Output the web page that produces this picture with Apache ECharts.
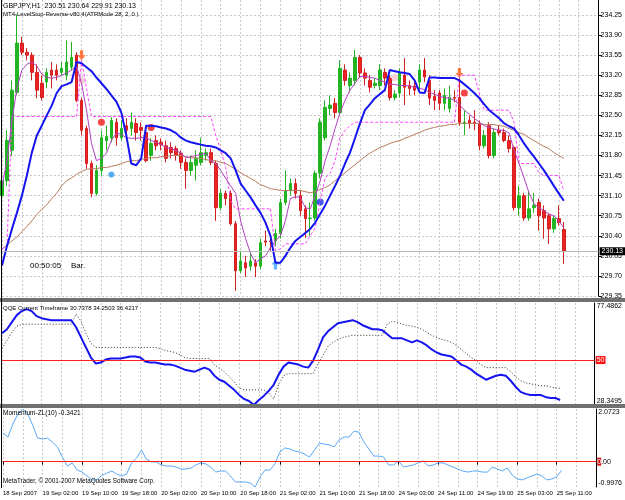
<!DOCTYPE html>
<html><head><meta charset="utf-8">
<script src="https://cdn.jsdelivr.net/npm/echarts@6/dist/echarts.min.js"></script>
<style>html,body{margin:0;padding:0;background:#fff}#c{width:625px;height:500px}</style>
</head><body><div id="c"></div><script>
const tickLabels = ['18 Sep 2007','19 Sep 02:00','19 Sep 10:00','19 Sep 18:00','20 Sep 02:00','20 Sep 10:00','20 Sep 18:00','21 Sep 02:00','21 Sep 10:00','21 Sep 18:00','24 Sep 03:00','24 Sep 11:00','24 Sep 19:00','25 Sep 03:00','25 Sep 11:00'];
const priceTicks = [229.35,229.70,230.05,230.40,230.75,231.10,231.45,231.80,232.15,232.50,232.85,233.20,233.55,233.90,234.25];

const opens = [231.10,231.36,231.89,232.90,233.76,233.60,233.55,233.25,233.06,233.08,
233.29,233.29,233.25,233.20,233.34,233.55,232.76,232.27,231.66,231.14,
231.54,232.06,232.11,232.38,232.11,232.32,232.27,232.36,232.29,232.20,
231.80,232.06,232.03,231.97,231.94,231.92,231.84,231.68,231.54,231.63,
231.68,231.80,231.85,231.66,230.89,231.14,231.14,230.61,229.79,229.93,
229.87,229.93,229.87,230.31,230.31,230.31,230.44,230.98,231.19,231.31,
231.10,230.87,230.70,230.71,231.49,232.11,232.62,232.71,232.55,233.29,
233.02,233.11,233.51,233.24,233.11,233.02,233.02,233.25,233.15,232.81,
232.89,233.20,233.02,233.01,233.08,233.29,233.11,232.83,232.89,232.71,
232.62,232.81,232.81,232.36,232.41,232.38,232.36,231.97,232.32,231.80,
232.24,232.20,232.06,231.94,230.89,231.10,230.71,230.89,230.98,230.84,
230.75,230.52,230.70,230.51];
const closes = [231.36,232.06,232.94,233.76,233.60,233.55,233.25,232.94,232.81,233.25,
233.20,233.20,233.32,233.43,233.51,232.76,232.24,231.66,231.14,231.54,
232.11,232.13,232.41,232.11,232.27,232.24,232.38,232.20,232.24,231.71,
232.01,231.97,231.99,231.75,231.85,231.80,231.68,231.54,231.68,231.75,
231.85,231.85,231.68,230.89,231.14,231.05,230.61,229.79,229.96,229.84,
229.96,229.87,230.28,230.29,230.30,230.44,230.98,231.19,231.31,231.14,
230.84,230.70,230.71,231.49,232.38,232.64,232.68,232.55,233.32,233.11,
233.15,233.51,233.24,233.15,232.99,233.06,233.29,233.15,232.81,232.87,
233.25,232.99,232.97,232.94,233.29,233.17,232.80,232.76,232.71,232.85,
232.81,232.80,232.38,232.38,232.36,232.36,231.97,232.15,231.80,232.20,
232.20,232.06,231.92,230.89,231.10,230.71,230.87,230.93,230.75,230.71,
230.52,230.70,230.63,230.13];
const highs = [231.54,232.24,233.11,234.25,233.87,233.67,233.60,233.39,233.20,233.32,
233.43,233.39,233.43,233.81,233.78,233.60,232.80,232.32,231.71,231.63,
232.24,232.32,232.47,232.45,232.41,232.45,232.55,232.45,232.38,232.32,
232.10,232.15,232.10,232.06,232.03,231.97,231.89,231.75,231.80,231.89,
232.11,231.92,231.92,231.71,231.22,231.19,231.19,230.66,230.14,230.05,
230.14,229.99,230.35,230.49,230.40,230.52,231.05,231.54,231.40,231.40,
231.19,230.93,230.98,231.54,232.45,232.76,232.85,232.80,233.46,233.39,
233.25,233.64,233.55,233.32,233.20,233.15,233.39,233.32,233.20,232.94,
233.32,233.50,233.11,233.11,233.39,233.50,233.20,232.94,232.94,232.97,
233.02,232.94,233.15,232.59,232.50,232.59,232.41,232.24,232.38,232.27,
232.32,232.27,232.15,231.97,231.27,231.15,231.19,231.15,231.05,230.93,
230.80,230.75,230.93,230.64];
const lows = [231.01,231.27,231.80,232.85,233.55,233.46,233.11,232.80,232.76,232.97,
232.97,233.11,233.20,233.11,233.29,232.73,232.15,231.57,231.07,231.10,
231.45,231.89,232.03,231.97,232.06,232.10,232.15,232.06,232.06,231.68,
231.71,231.89,231.89,231.68,231.75,231.71,231.57,231.22,231.45,231.36,
231.63,231.71,231.63,230.66,230.84,230.93,230.58,229.44,229.75,229.68,
229.79,229.68,229.82,230.22,230.14,230.22,230.35,230.93,231.10,231.05,
230.75,230.36,230.40,230.66,231.40,232.06,232.50,232.45,232.50,233.02,
232.90,233.02,233.15,233.02,232.90,232.97,232.94,233.02,232.76,232.76,
232.81,232.68,232.85,232.85,232.94,233.08,232.68,232.59,232.59,232.59,
232.55,232.73,232.32,232.15,232.27,232.24,231.89,231.92,231.75,231.75,
232.15,232.03,231.85,230.84,230.75,230.66,230.66,230.80,230.49,230.35,
230.26,230.45,230.58,229.91];

const trendLine = [229.88,230.22,230.52,230.80,231.10,231.45,231.85,232.15,232.32,232.50,
232.67,232.89,233.01,233.04,233.08,233.43,233.41,233.34,233.27,233.16,
233.06,232.96,232.85,232.74,232.55,232.15,231.66,231.63,231.75,232.32,
232.32,232.31,232.29,232.27,232.24,232.19,232.11,232.06,232.03,232.01,
231.99,231.97,231.96,231.94,231.89,231.84,231.75,231.54,231.31,231.19,
231.07,230.93,230.80,230.63,230.40,229.93,229.93,230.05,230.19,230.31,
230.38,230.45,230.52,230.63,230.78,230.93,231.10,231.27,231.45,231.66,
231.85,232.10,232.36,232.59,232.69,232.80,232.87,232.94,233.29,233.27,
233.25,233.24,233.22,233.11,232.90,232.89,233.16,233.16,233.15,233.15,
233.15,233.15,233.11,233.04,232.97,232.89,232.80,232.69,232.59,232.52,
232.45,232.36,232.31,232.27,232.15,232.01,231.89,231.78,231.66,231.54,
231.41,231.27,231.14,231.01];
const fastMA = [231.27,231.71,232.41,232.97,233.29,233.39,233.43,233.36,233.22,233.16,
233.15,233.16,233.20,233.24,233.29,233.36,233.06,232.59,232.01,231.71,
231.75,231.84,232.06,232.19,232.17,232.11,232.10,232.10,232.11,232.11,
232.06,232.03,231.99,231.94,231.92,231.89,231.84,231.76,231.78,231.80,
231.82,231.84,231.71,231.66,231.54,231.40,231.27,231.14,230.66,230.35,
230.09,229.93,230.00,230.05,230.19,230.31,230.40,230.66,231.05,231.08,
231.07,230.89,230.87,231.10,231.36,231.71,231.97,232.27,232.55,232.76,
232.94,233.06,233.18,233.18,233.16,233.15,233.11,233.08,233.04,233.04,
233.02,233.02,233.01,232.99,232.97,232.95,232.90,232.87,232.83,232.81,
232.80,232.76,232.69,232.59,232.52,232.45,232.38,232.32,232.29,232.26,
232.24,232.24,232.19,231.89,231.66,231.41,231.15,230.96,230.89,230.84,
230.78,230.75,230.66,230.54];
const slowMA = [230.17,230.24,230.31,230.38,230.47,230.56,230.66,230.77,230.86,230.94,
231.05,231.14,231.27,231.36,231.41,231.47,231.52,231.56,231.57,231.57,
231.59,231.59,231.61,231.63,231.66,231.69,231.71,231.71,231.73,231.75,
231.76,231.76,231.78,231.78,231.80,231.80,231.80,231.78,231.76,231.76,
231.75,231.73,231.71,231.71,231.68,231.66,231.61,231.56,231.50,231.45,
231.40,231.35,231.29,231.26,231.22,231.21,231.19,231.19,231.19,231.19,
231.19,231.17,231.15,231.17,231.21,231.24,231.29,231.36,231.43,231.50,
231.57,231.64,231.71,231.78,231.84,231.89,231.94,231.97,232.01,232.04,
232.06,232.10,232.13,232.17,232.20,232.24,232.27,232.29,232.31,232.32,
232.34,232.34,232.36,232.36,232.36,232.36,232.36,232.34,232.34,232.34,
232.32,232.31,232.27,232.24,232.20,232.17,232.11,232.06,232.01,231.96,
231.92,231.85,231.80,231.75];
const stopUp = [230.17,230.22,232.48,232.48,232.48,232.48,232.48,232.48,232.48,232.48,
232.48,232.48,232.48,232.48,232.48,232.48,null,null,null,null,
null,null,null,null,null,null,null,null,null,null,
null,null,null,null,null,null,null,null,null,null,
null,null,null,null,null,null,null,null,null,null,
null,null,null,null,230.87,230.14,230.17,230.26,230.26,230.26,
230.26,230.26,230.40,230.54,231.01,231.41,231.49,231.71,232.11,232.24,
232.32,232.38,232.38,232.38,232.38,232.38,232.38,232.38,232.38,232.38,
232.38,232.38,232.38,232.38,232.38,232.38,232.38,232.38,232.38,232.38,
232.38,232.38,null,null,null,null,null,null,null,null,
null,null,null,null,null,null,null,null,null,null,
null,null,null,null];
const stopDown = [null,null,null,null,null,null,null,null,null,null,
null,null,null,null,null,232.48,233.46,232.97,232.48,232.48,
232.48,232.48,232.48,232.48,232.48,232.48,232.48,232.48,232.48,232.48,
232.48,232.48,232.48,232.48,232.48,232.48,232.48,232.48,232.48,232.48,
232.48,232.48,232.48,232.15,231.89,231.59,231.01,230.87,230.87,230.87,
230.87,230.87,230.87,230.87,230.87,null,null,null,null,null,
null,null,null,null,null,null,null,null,null,null,
null,null,null,null,null,null,null,null,null,null,
null,null,null,null,null,null,null,null,null,null,
null,232.38,233.20,233.20,233.20,233.20,232.89,232.59,232.59,232.59,
232.59,232.59,232.59,232.38,231.66,231.66,231.66,231.66,231.50,231.45,
231.45,231.45,231.45,231.19];

const qqeMain = [62.89,64.84,68.24,71.65,73.59,74.57,73.59,71.16,70.19,69.70,
69.22,69.22,69.22,69.22,69.22,65.81,60.94,56.08,51.21,48.30,
48.78,50.24,50.73,50.73,50.73,51.21,51.70,51.70,51.21,49.27,
48.78,48.78,48.30,47.81,47.81,47.32,46.35,45.38,44.89,44.40,
45.38,46.35,45.38,42.46,40.51,39.54,37.59,35.65,33.21,31.27,
30.29,28.35,30.78,32.73,35.16,38.08,42.94,46.84,48.78,48.30,
47.81,46.84,46.35,49.76,55.11,60.94,63.86,65.81,67.76,68.24,
68.73,69.22,68.24,66.78,65.81,64.84,64.84,64.35,62.40,60.46,
60.46,60.46,59.49,58.51,59.49,58.51,57.05,55.11,53.65,52.67,
52.19,51.70,49.76,47.81,46.84,45.38,43.43,41.97,40.51,41.49,
42.46,42.94,42.46,40.03,37.11,34.67,33.70,33.21,33.21,33.21,
32.24,31.75,31.75,30.74];
const qqeSignal = [55.59,59.49,63.38,66.30,67.27,67.27,67.27,67.27,67.27,67.27,
67.27,67.27,67.27,67.27,67.27,72.13,68.73,62.89,58.02,56.08,
56.08,56.08,56.08,56.08,56.08,56.08,56.08,56.08,56.08,56.08,
56.08,56.08,55.59,54.62,54.13,53.65,52.67,51.21,50.73,50.73,
50.73,50.73,50.73,47.81,45.86,44.40,41.97,39.54,36.62,35.65,
35.65,35.65,35.65,35.65,34.19,31.27,38.08,42.46,43.43,43.43,
43.43,43.43,43.43,43.43,48.30,52.19,56.57,58.51,59.97,60.94,
61.43,61.92,61.92,61.92,61.92,61.92,61.92,61.92,67.27,68.73,
68.24,67.27,66.78,66.30,65.81,64.84,63.38,61.92,60.94,59.97,
59.49,58.51,57.05,55.11,53.16,51.21,49.76,47.81,46.35,46.35,
46.35,46.35,46.35,44.40,41.97,40.03,39.05,38.57,38.08,37.59,
37.59,37.11,36.62,36.42];
const momentum = [1.13,0.97,1.48,1.87,2.07,1.87,1.44,0.93,0.89,0.93,
0.77,0.58,0.18,-0.17,-0.05,-0.33,-0.41,-0.56,-0.72,-0.72,
-0.53,-0.45,-0.37,-0.49,-0.56,-0.49,-0.05,0.14,0.46,0.10,
-0.01,-0.01,-0.13,-0.17,-0.17,-0.21,-0.29,-0.29,-0.25,-0.13,
-0.05,-0.09,-0.21,-0.41,-0.37,-0.37,-0.56,-0.80,-0.80,-0.80,
-0.84,-0.9976,-0.60,-0.33,-0.33,-0.09,0.38,0.54,0.50,0.42,
0.38,0.30,0.18,0.46,0.73,0.69,0.66,0.58,0.85,0.97,
0.97,1.20,1.16,0.77,0.50,0.22,0.22,0.18,-0.13,-0.13,
0.03,-0.21,-0.17,-0.13,-0.05,0.03,-0.17,-0.13,-0.05,-0.05,
-0.13,-0.21,-0.29,-0.37,-0.41,-0.37,-0.37,-0.41,-0.41,-0.21,
-0.29,-0.37,-0.25,-0.53,-0.68,-0.72,-0.64,-0.56,-0.49,-0.56,
-0.72,-0.68,-0.60,-0.3421];

const sellArrows = [[16,233.55],[92,233.24]];
const buyArrows = [[55,229.90]];
const redDots = [[20,232.38],[30,232.29],[93,232.89]];
const pinkDots = [[16,233.11],[79,233.16]];
const lightBlueDots = [[22,231.47]];
const darkBlueDots = [[64,230.99]];

const nSlots = 121;
const cats = Array.from({length:nSlots},(_,i)=>String(i));
const F = "'Liberation Sans',Arial,sans-serif";
const grid1 = '#c8c8c8';

function xAx(gi, bottom){
  return {type:'category', gridIndex:gi, data:cats, boundaryGap:false,
    axisLine:{show:bottom, lineStyle:{color:'#000',width:1}},
    axisTick:{show:bottom, interval:7, length:3, lineStyle:{color:'#000'}},
    axisLabel:{show:bottom, interval:7, align:'left', margin:3, fontSize:6, fontFamily:F, color:'#000',
      formatter:(v,idx)=> (idx%8===0 && tickLabels[idx/8]) ? tickLabels[idx/8] : ''},
    splitLine:{show:true, interval:3, lineStyle:{color:grid1, type:[2,2], width:1}}};
}

const chart = echarts.init(document.getElementById('c'), null, {renderer:'canvas'});
chart.setOption({
  animation:false,
  backgroundColor:'#fff',
  grid:[
    {left:2, top:0, width:600, height:296},
    {left:2, top:303, width:600, height:102},
    {left:2, top:409, width:600, height:78}
  ],
  xAxis:[xAx(0,false), xAx(1,false), xAx(2,true)],
  yAxis:[
    {type:'value', gridIndex:0, position:'right', min:229.35, max:234.5116, interval:0.35,
     axisLine:{show:true, lineStyle:{color:'#000'}},
     axisTick:{show:true, length:3, customValues:priceTicks, lineStyle:{color:'#000'}},
     axisLabel:{customValues:priceTicks, fontSize:7, fontFamily:F, color:'#000', margin:2, formatter:v=>v.toFixed(2)},
     splitLine:{show:true, lineStyle:{color:grid1, type:[2,2]}}},
    {type:'value', gridIndex:1, position:'right', min:28.3495, max:77.4862,
     axisLine:{show:true, lineStyle:{color:'#000'}},
     axisTick:{show:false, customValues:[28.3495,77.4862]},
     axisLabel:{customValues:[28.3495,77.4862], fontSize:7, fontFamily:F, color:'#000', margin:2,
       verticalAlignMinLabel:'bottom', verticalAlignMaxLabel:'top', formatter:v=>v.toFixed(4)},
     splitLine:{show:false}},
    {type:'value', gridIndex:2, position:'right', min:-0.9976, max:2.0723,
     axisLine:{show:true, lineStyle:{color:'#000'}},
     axisTick:{show:false, customValues:[-0.9976,2.0723]},
     axisLabel:{customValues:[-0.9976,2.0723], fontSize:7, fontFamily:F, color:'#000', margin:2,
       verticalAlignMinLabel:'bottom', verticalAlignMaxLabel:'top', formatter:v=>v.toFixed(4)},
     splitLine:{show:false}}
  ],
  series:[
    {type:'candlestick', xAxisIndex:0, yAxisIndex:0, barWidth:3,
     data: opens.map((o,i)=>[o, closes[i], lows[i], highs[i]]),
     itemStyle:{color:'#22b422', color0:'#f02222', borderColor:'#22b422', borderColor0:'#d02020', borderWidth:1},
     markLine:{silent:true, symbol:'none', animation:false,
       lineStyle:{color:'#b8b8b8', type:'solid', width:1},
       label:{show:true, position:'end', distance:1, formatter:()=>closes[closes.length-1].toFixed(2),
         backgroundColor:'#000', color:'#fff', fontSize:7, fontFamily:F, padding:[1,2,0,2]},
       data:[{yAxis:closes[closes.length-1]}]}},
    {type:'line', xAxisIndex:0, yAxisIndex:0, data:slowMA, symbol:'none', lineStyle:{color:'#b87a60', width:1}},
    {type:'line', xAxisIndex:0, yAxisIndex:0, data:stopUp, symbol:'none', connectNulls:false, lineStyle:{color:'#ff44ff', width:1, type:[3,2]}},
    {type:'line', xAxisIndex:0, yAxisIndex:0, data:stopDown, symbol:'none', connectNulls:false, lineStyle:{color:'#ff44ff', width:1, type:[3,2]}},
    {type:'line', xAxisIndex:0, yAxisIndex:0, data:fastMA, symbol:'none', lineStyle:{color:'#b040c0', width:1}},
    {type:'line', xAxisIndex:0, yAxisIndex:0, data:trendLine, symbol:'none', lineStyle:{color:'#1414f0', width:2}},
    {type:'scatter', xAxisIndex:0, yAxisIndex:0, data:sellArrows, symbol:'path://M3,0 L7,0 L7,6 L10,6 L5,12 L0,6 L3,6 Z', symbolSize:[8,10], itemStyle:{color:'#ff5a14'}},
    {type:'scatter', xAxisIndex:0, yAxisIndex:0, data:buyArrows, symbol:'path://M5,0 L10,6 L7,6 L7,12 L3,12 L3,6 L0,6 Z', symbolSize:[8,10], itemStyle:{color:'#3aa0ff'}},
    {type:'scatter', xAxisIndex:0, yAxisIndex:0, data:redDots, symbol:'circle', symbolSize:7, itemStyle:{color:'#f01818'}},
    {type:'scatter', xAxisIndex:0, yAxisIndex:0, data:pinkDots, symbol:'circle', symbolSize:7, itemStyle:{color:'#f2c6d0'}},
    {type:'scatter', xAxisIndex:0, yAxisIndex:0, data:lightBlueDots, symbol:'circle', symbolSize:6, itemStyle:{color:'#2a9cf0'}},
    {type:'scatter', xAxisIndex:0, yAxisIndex:0, data:darkBlueDots, symbol:'circle', symbolSize:7, itemStyle:{color:'#1030e8'}},
    {type:'line', xAxisIndex:1, yAxisIndex:1, data:qqeSignal, symbol:'none', lineStyle:{color:'#303030', width:1, type:[1,2]},
     markLine:{silent:true, symbol:'none', animation:false, lineStyle:{color:'#ff2020', type:'solid', width:1},
       label:{show:true, position:'end', distance:1, formatter:'50', backgroundColor:'#ff1010', color:'#fff', fontSize:7, fontFamily:F, padding:[1,1,0,1]},
       data:[{yAxis:50}]}},
    {type:'line', xAxisIndex:1, yAxisIndex:1, data:qqeMain, symbol:'none', lineStyle:{color:'#1414f0', width:2}},
    {type:'line', xAxisIndex:2, yAxisIndex:2, data:momentum, symbol:'none', lineStyle:{color:'#5aa8f5', width:1},
     markLine:{silent:true, symbol:'none', animation:false, lineStyle:{color:'#ff2020', type:'solid', width:1},
       label:{show:true, position:'end', distance:1, formatter:'{r|0}.00', fontSize:7, fontFamily:F, color:'#000',
         rich:{r:{backgroundColor:'#d01010', color:'#fff', fontSize:7, fontFamily:F, padding:[1,0,0,0]}}},
       data:[{yAxis:0}]}}
  ],
  graphic:{elements:[
    {type:'rect', shape:{x:0, y:298, width:625, height:4}, style:{fill:'#707070'}, z:100},
    {type:'rect', shape:{x:0, y:404, width:625, height:4}, style:{fill:'#707070'}, z:100},
    {type:'line', shape:{x1:1.5, y1:0, x2:1.5, y2:488}, style:{stroke:'#000', lineWidth:1}, z:100},
    {type:'text', x:3, y:3, style:{text:'GBPJPY,H1  230.51 230.64 229.91 230.13', font:'7px '+F, fill:'#000'}, z:100},
    {type:'text', x:3, y:11, style:{text:'MT4-LevelStop-Reverse-v80.4(ATRMode 28, 2, 0 )', font:'6px '+F, fill:'#000'}, z:100},
    {type:'text', x:30, y:262, style:{text:'00:50:05', font:'8px '+F, fill:'#000'}, z:100},
    {type:'text', x:71, y:262, style:{text:'Bar.', font:'8px '+F, fill:'#000'}, z:100},
    {type:'text', x:3, y:305, style:{text:'QQE Current Timeframe 30.7378 34.2503 36.4217', font:'6px '+F, fill:'#000'}, z:100},
    {type:'text', x:3, y:410, style:{text:'Momentum-ZL(10) -0.3421', font:'6.5px '+F, fill:'#000'}, z:100},
    {type:'text', x:3, y:478, style:{text:'MetaTrader, \u00a9 2001-2007 MetaQuotes Software Corp.', font:'6.3px '+F, fill:'#000'}, z:100}
  ]}
});
</script></body></html>
